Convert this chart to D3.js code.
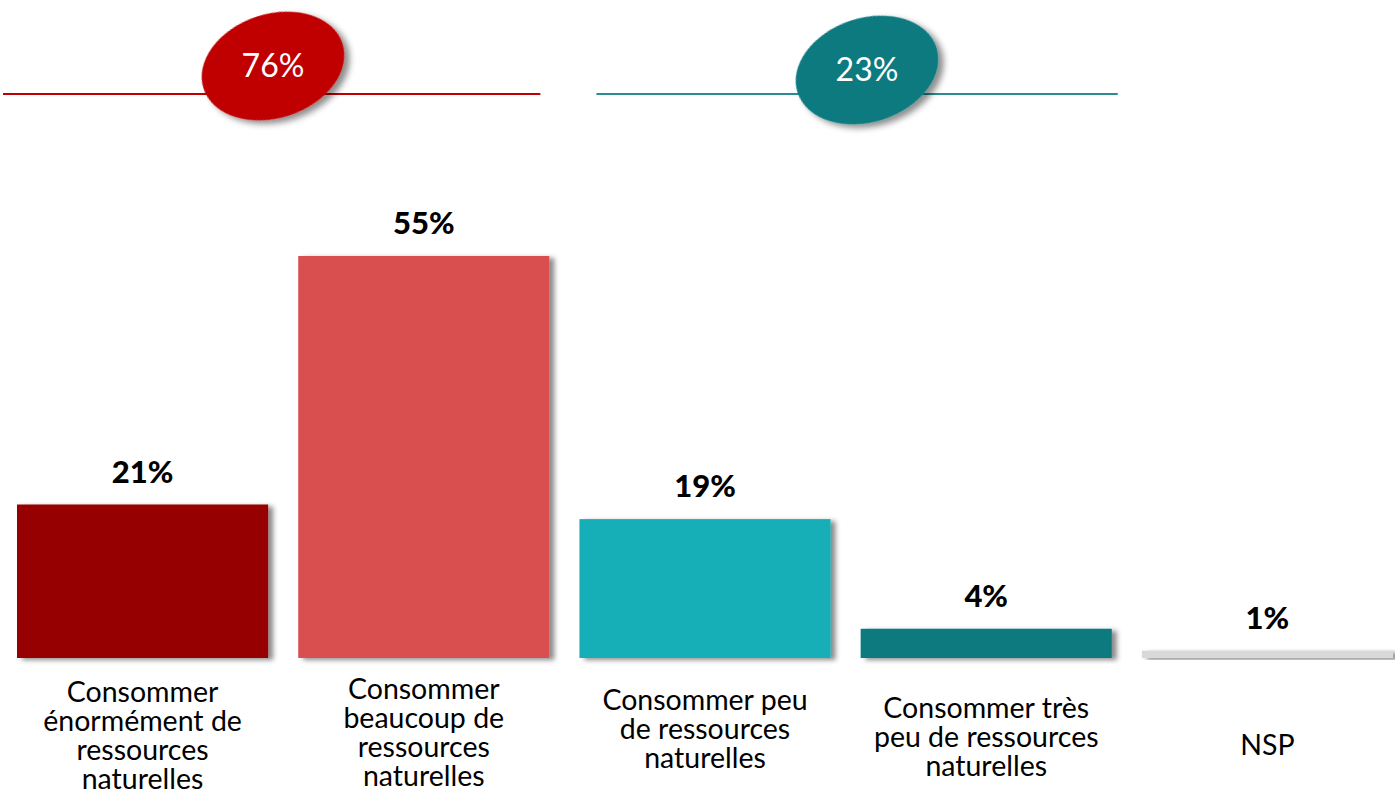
<!DOCTYPE html>
<html><head><meta charset="utf-8">
<script src="https://cdn.jsdelivr.net/npm/d3@7"></script>
<style>html,body{margin:0;padding:0;background:#fff;}svg{display:block;}</style>
</head><body>
<script>
const categories = [
  ["Consommer", "énormément de", "ressources", "naturelles"],
  ["Consommer", "beaucoup de", "ressources", "naturelles"],
  ["Consommer peu", "de ressources", "naturelles"],
  ["Consommer très", "peu de ressources", "naturelles"],
  ["NSP"]
];
const values = [21, 55, 19, 4, 1];
const valueLabels = ["21%", "55%", "19%", "4%", "1%"];
const barColors = ["#960000", "#D94F50", "#14AFB7", "#0F7A80", "#D9D9D9"];
const groupLabels = ["76%", "23%"];
const groupMembers = [[0, 1], [2, 3]];
const groupColors = ["#C00000", "#107A80"];
const groupLineColors = ["#C00000", "#2B8C92"];

const W = 1395, H = 792;
const svg = d3.select("body").append("svg").attr("width", W).attr("height", H);
const defs = svg.append("defs");
const f1 = defs.append("filter").attr("id", "barShadow").attr("x", "-10%").attr("y", "-10%").attr("width", "130%").attr("height", "130%");
f1.append("feDropShadow").attr("dx", 5).attr("dy", 2).attr("stdDeviation", 2.5).attr("flood-color", "#000").attr("flood-opacity", 0.45);
const f2 = defs.append("filter").attr("id", "ovalShadow").attr("x", "-20%").attr("y", "-20%").attr("width", "150%").attr("height", "150%");
f2.append("feDropShadow").attr("dx", 4).attr("dy", 5).attr("stdDeviation", 3).attr("flood-color", "#000").attr("flood-opacity", 0.45);

const idx = d3.range(values.length);
const x = d3.scaleBand().domain(idx).range([17, 1393]).paddingInner(0.107).paddingOuter(0);
const baseY = 658;
const y = d3.scaleLinear().domain([0, 55]).range([baseY, 256]);
const bw = x.bandwidth();

// bars
svg.append("g").selectAll("rect").data(idx).join("rect")
  .attr("x", i => x(i)).attr("y", i => y(values[i]))
  .attr("width", bw).attr("height", i => baseY - y(values[i]))
  .attr("fill", i => barColors[i]).attr("filter", "url(#barShadow)");

// value labels
svg.append("g").selectAll("text").data(idx).join("text")
  .attr("x", i => x(i) + bw / 2).attr("y", i => y(values[i]) - 22)
  .attr("text-anchor", "middle")
  .style("font-family", "Lato, 'Open Sans', sans-serif").style("font-weight", "900").style("font-size", "31px")
  .attr("fill", "#000").text(i => valueLabels[i]);

// category labels
const lh = 29, centerY = 735;
const labelNudge = [0, -3, -6, 2, 10];
const cl = svg.append("g").selectAll("text").data(idx).join("text")
  .attr("text-anchor", "middle")
  .style("font-family", "Lato, 'Open Sans', sans-serif").style("font-size", "28.5px").attr("fill", "#000");
cl.each(function(i) {
  const lines = categories[i];
  const t = d3.select(this);
  const y0 = centerY - (lines.length - 1) * lh / 2 + 10 + labelNudge[i];
  lines.forEach((ln, k) => {
    t.append("tspan").attr("x", x(i) + bw / 2).attr("y", y0 + k * lh).text(ln);
  });
});

// group lines and ovals
const lineY = 94;
const linePad = [[-14, -9], [17, 6]];
groupMembers.forEach((g, gi) => {
  const x0 = x(g[0]) + linePad[gi][0];
  const x1 = x(g[g.length - 1]) + bw + linePad[gi][1];
  svg.append("line").attr("x1", x0).attr("x2", x1).attr("y1", lineY).attr("y2", lineY)
    .attr("stroke", groupLineColors[gi]).attr("stroke-width", 2);
});
const ovalCenters = [[273, 66], [867, 70]];
groupMembers.forEach((g, gi) => {
  const [cx, cy] = ovalCenters[gi];
  const gg = svg.append("g").attr("transform", `translate(${cx},${cy})`);
  gg.append("ellipse").attr("rx", 73).attr("ry", 52).attr("transform", "rotate(-18)")
    .attr("fill", groupColors[gi]).attr("filter", "url(#ovalShadow)");
  gg.append("text").attr("text-anchor", "middle").attr("y", 11)
    .style("font-family", "Lato, 'Open Sans', sans-serif").style("font-size", "32px")
    .attr("fill", "#fff").text(groupLabels[gi]);
});
</script>
</body></html>
